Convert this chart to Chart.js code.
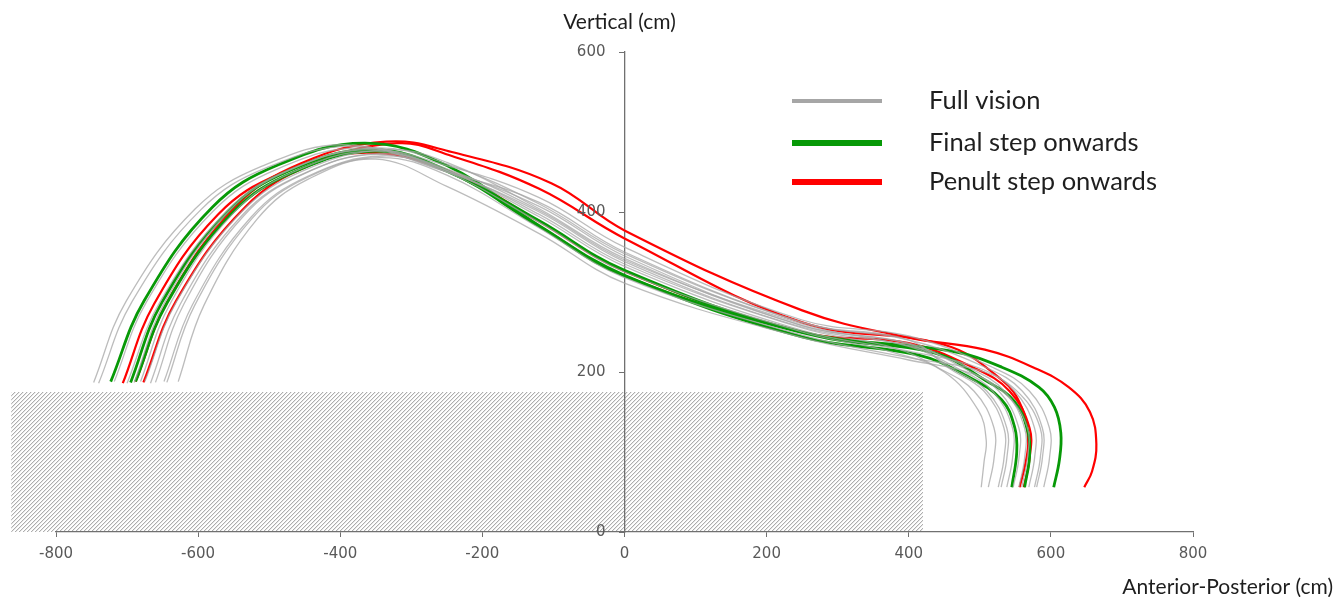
<!DOCTYPE html>
<html>
<head>
<meta charset="utf-8">
<title>Trajectories</title>
<script src="https://cdn.jsdelivr.net/npm/chart.js@4.4.1/dist/chart.umd.min.js"></script>
<style>
  html, body { margin: 0; padding: 0; background: #fff; }
  #wrap { width: 1339px; height: 597px; }
</style>
</head>
<body>
<div id="wrap"><canvas id="chart" width="1339" height="597"></canvas></div>
<script>
// Axis ticks
const xTicks = [-800, -600, -400, -200, 0, 200, 400, 600, 800];
const yTicks = [0, 200, 400, 600];

// Obstacle (hatched block), anterior-posterior and vertical extent in cm
const obstacleX = [-863, 420];
const obstacleY = [0, 175];

// Full vision trajectories, [x, y] in cm
const fullVision = [
    [[-747,187],[-701,289],[-604,404],[-511,457],[-390,484],[-250,450],[-120,412],[0,350],[250,262],[400,240],[456,205],[506,176],[534,130],[534,92],[526,56]],
    [[-740,186],[-693,288],[-596,403],[-502,456],[-380,482],[-250,452],[-120,407],[0,345],[250,258],[400,236],[477,205],[527,176],[555,130],[555,92],[547,56]],
    [[-718,188],[-673,287],[-579,401],[-488,454],[-370,480],[-250,454],[-120,402],[0,340],[250,260],[400,232],[468,205],[518,176],[546,130],[546,92],[538,56]],
    [[-690,187],[-647,287],[-558,400],[-472,452],[-360,478],[-250,458],[-120,418],[0,356],[250,265],[400,245],[520,205],[570,176],[598,130],[598,92],[590,56]],
    [[-681,188],[-639,286],[-551,398],[-466,450],[-355,476],[-250,452],[-120,397],[0,335],[250,255],[380,230],[442,205],[492,176],[520,130],[520,92],[512,56]],
    [[-667,186],[-625,285],[-538,396],[-454,447],[-345,473],[-250,452],[-120,394],[0,332],[250,252],[400,226],[499,205],[549,176],[577,130],[577,92],[569,56]],
    [[-648,188],[-608,284],[-525,394],[-445,445],[-340,470],[-250,450],[-120,387],[0,325],[250,250],[380,224],[450,200],[498,152],[509,115],[506,88],[502,56]],
    [[-644,187],[-605,283],[-524,392],[-447,443],[-345,468],[-250,446],[-120,380],[0,318],[250,246],[400,218],[507,200],[557,172],[585,130],[585,92],[577,56]],
    [[-628,188],[-592,283],[-517,391],[-445,441],[-350,466],[-250,432],[-120,373],[0,311],[250,243],[400,215],[489,198],[539,170],[567,130],[567,92],[559,56]],
    [[-700,186],[-654,287],[-560,401],[-469,454],[-350,480],[-250,460],[-120,410],[0,348],[250,262],[400,240],[510,205],[560,176],[588,130],[588,92],[580,56]],
    [[-675,188],[-631,287],[-539,400],[-451,452],[-335,478],[-250,462],[-120,404],[0,342],[250,258],[400,235],[460,205],[510,176],[538,130],[538,92],[530,56]],
    [[-660,187],[-620,285],[-536,395],[-455,446],[-350,472],[-250,450],[-120,400],[0,338],[250,256],[400,233],[485,205],[535,176],[563,130],[563,92],[555,56]]
];

// Final step onwards trajectories
const finalStep = [
    [[-723,188],[-676,289],[-580,406],[-487,459],[-365,486],[-250,458],[-120,383],[0,321],[250,244],[414,221],[484,194],[531,165],[549,131],[552,100],[545,56]],
    [[-695,187],[-651,287],[-559,400],[-471,452],[-355,478],[-250,452],[-120,382],[0,320],[270,245],[436,224],[507,190],[549,163],[568,124],[570,94],[563,56]],
    [[-688,188],[-644,286],[-553,398],[-465,450],[-350,476],[-250,451],[-120,389],[0,327],[250,250],[460,226],[531,206],[583,181],[605,156],[614,124],[612,90],[604,56]]
];

// Penultimate step onwards trajectories
const penultStep = [
    [[-688,188],[-642,290],[-547,407],[-455,461],[-335,488],[-243,475],[-103,436],[0,377],[250,277],[400,243],[507,228],[577,205],[625,181],[655,150],[664,110],[658,76],[647,56]],
    [[-677,187],[-631,289],[-534,406],[-441,459],[-320,486],[-243,470],[-120,429],[0,367],[250,262],[450,234],[531,190],[559,156],[568,115],[564,85],[556,56]],
    [[-706,186],[-662,285],[-572,397],[-484,448],[-370,474],[-250,452],[-120,388],[0,326],[250,250],[400,236],[492,205],[542,176],[570,130],[570,92],[562,56]]
];

const legendLabels = ['Full vision', 'Final step onwards', 'Penult step onwards'];
const groupColors = ['#a6a6a6', '#079907', '#ff0000'];
const groupWidths = [1.3, 2.8, 2.2];
const lineColors = ['rgba(165,165,165,0.75)', '#079907', '#ff0000'];

const axisColor = '#707070';
const tickColor = '#595959';
const tickFont = { family: 'DejaVu Sans', size: 15 };

// Build one dataset per trajectory
function toDatasets(runs, group) {
    return runs.map(run => ({
        label: legendLabels[group],
        data: run.map(p => ({ x: p[0], y: p[1] })),
        showLine: true,
        borderColor: lineColors[group],
        borderWidth: groupWidths[group],
        pointRadius: 0,
        tension: 0.4,
        fill: false
    }));
}

// Hatched obstacle, painted under the axes
const hatchPlugin = {
    id: 'hatch',
    beforeDraw(chart) {
        const ctx = chart.ctx;
        const xs = chart.scales.x, ys = chart.scales.y;
        const left = xs.getPixelForValue(obstacleX[0]);
        const right = xs.getPixelForValue(obstacleX[1]);
        const top = ys.getPixelForValue(obstacleY[1]);
        const bottom = ys.getPixelForValue(obstacleY[0]);
        const h = bottom - top;
        ctx.save();
        ctx.beginPath();
        ctx.rect(left, top, right - left, h);
        ctx.clip();
        ctx.strokeStyle = '#969696';
        ctx.lineWidth = 1;
        ctx.beginPath();
        for (let sx = left - h; sx < right + 4; sx += 4) {
            ctx.moveTo(sx, bottom);
            ctx.lineTo(sx + h, top);
        }
        ctx.stroke();
        ctx.restore();
    }
};

// Y tick labels (left of the centred axis), axis titles and legend
const labelsPlugin = {
    id: 'labels',
    afterDraw(chart) {
        const ctx = chart.ctx;
        const xs = chart.scales.x, ys = chart.scales.y;
        const axisX = xs.getPixelForValue(0);
        ctx.save();
        ctx.textBaseline = 'middle';

        ctx.fillStyle = tickColor;
        ctx.font = tickFont.size + 'px "' + tickFont.family + '"';
        ctx.textAlign = 'right';
        ys.ticks.forEach(t => {
            ctx.fillText(String(t.value), axisX - 19, ys.getPixelForValue(t.value));
        });

        ctx.fillStyle = '#1e1e1e';
        ctx.font = '21px Lato';
        ctx.textAlign = 'center';
        ctx.fillText('Vertical (cm)', axisX - 5, 22);
        ctx.textAlign = 'right';
        ctx.fillText('Anterior-Posterior (cm)', 1333, 587);

        const rows = [101, 143, 182];
        const legendW = [4, 6, 6];
        ctx.textAlign = 'left';
        ctx.font = '25.5px Lato';
        rows.forEach((yy, i) => {
            ctx.strokeStyle = groupColors[i];
            ctx.lineWidth = legendW[i];
            ctx.beginPath();
            ctx.moveTo(792, yy);
            ctx.lineTo(882, yy);
            ctx.stroke();
            ctx.fillText(legendLabels[i], 929, yy);
        });
        ctx.restore();
    }
};

const chart = new Chart(document.getElementById('chart'), {
    type: 'scatter',
    data: {
        datasets: [
            ...toDatasets(fullVision, 0),
            ...toDatasets(finalStep, 1),
            ...toDatasets(penultStep, 2)
        ]
    },
    options: {
        responsive: false,
        animation: false,
        devicePixelRatio: 1,
        layout: { padding: { left: 56, right: 146, top: 52, bottom: 0 } },
        plugins: {
            legend: { display: false },
            tooltip: { enabled: false }
        },
        scales: {
            x: {
                type: 'linear',
                position: 'bottom',
                min: -800,
                max: 800,
                afterBuildTicks: s => { s.ticks = xTicks.map(v => ({ value: v })); },
                afterFit: s => { s.height = 65; },
                ticks: {
                    color: tickColor,
                    font: tickFont,
                    padding: 8,
                    maxRotation: 0
                },
                grid: { drawOnChartArea: false, tickLength: 5, color: axisColor },
                border: { color: axisColor, width: 1.3 }
            },
            y: {
                type: 'linear',
                position: { x: 0 },
                min: 0,
                max: 600,
                afterBuildTicks: s => { s.ticks = yTicks.map(v => ({ value: v })); },
                ticks: { display: false },
                grid: { drawOnChartArea: false, tickLength: 5, color: axisColor },
                border: { color: axisColor, width: 1.3 }
            }
        }
    },
    plugins: [hatchPlugin, labelsPlugin]
});
</script>
</body>
</html>
